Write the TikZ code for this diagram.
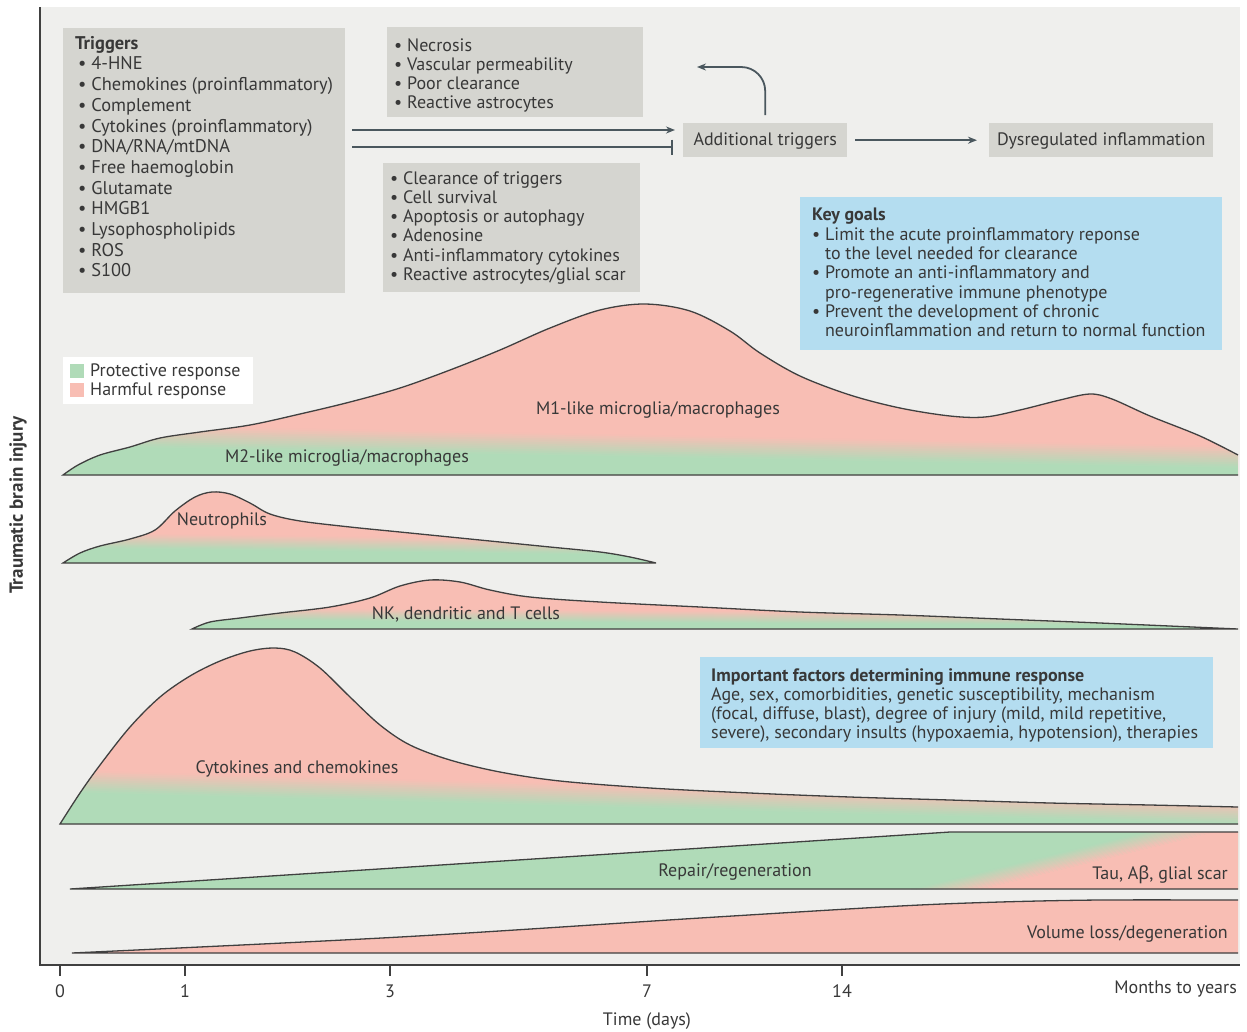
\documentclass[tikz,border=0pt]{standalone}
\usepackage{fontspec}
\setmainfont{PT Sans}
\newfontfamily\grkfont{Noto Sans}
\usetikzlibrary{arrows.meta,calc}
\definecolor{pinkc}{HTML}{F8BEB4}
\definecolor{greenc}{HTML}{B0DBB8}
\definecolor{greyc}{HTML}{D5D5D0}
\definecolor{bluec}{HTML}{B4DDF0}
\definecolor{bgc}{HTML}{EFEFED}
\definecolor{textc}{HTML}{383838}
\definecolor{linec}{HTML}{404040}
\definecolor{arrc}{HTML}{4A575E}
\newcommand\gradband[5]{%
  \foreach \k in {0,...,11}{%
    \pgfmathtruncatemacro\mixv{100*(\k+0.5)/12}%
    \pgfmathsetmacro\ya{#3+\k*#5/12}%
    \pgfmathsetmacro\yb{#4+\k*#5/12}%
    \pgfmathsetmacro\yc{#4+(\k+1)*#5/12+0.7}%
    \pgfmathsetmacro\yd{#3+(\k+1)*#5/12+0.7}%
    \fill[greenc!\mixv!pinkc] (#1,\ya) -- (#2,\yb) -- (#2,\yc) -- (#1,\yd) -- cycle;
  }%
  \pgfmathsetmacro\ye{#3+#5}%
  \pgfmathsetmacro\yf{#4+#5}%
  \fill[greenc] (#1,\ye) -- (#2,\yf) -- (#2,1000) -- (#1,1000) -- cycle;
}
\begin{document}
\begin{tikzpicture}[x=1pt,y=-1pt,
  txt/.style={font=\fontsize{18}{19.3}\selectfont, text=textc, inner sep=0pt},
  trtxt/.style={font=\fontsize{18.4}{20.7}\selectfont, text=textc, inner sep=0pt},
  lbl/.style={font=\fontsize{18}{20}\selectfont, text=textc, inner sep=0pt},
  gbox/.style={fill=greyc, draw=none, inner sep=0pt, anchor=north west},
  bbox/.style={fill=bluec, draw=none, inner sep=0pt, anchor=north west},
  curve/.style={draw=linec, line width=1.3pt},
  arr/.style={draw=arrc, line width=1.8pt, -{Stealth[length=9pt,width=7pt]}},
  barr/.style={draw=arrc, line width=1.8pt, -{Bar[width=15pt,line width=1.8pt]}},
  tick/.style={draw=linec, line width=1.3pt},
]
\useasboundingbox (0,0) rectangle (1247,1031);
\fill[white] (0,0) rectangle (1247,1031);
\fill[bgc] (40,7) rectangle (1240,965);

% ---------- top boxes ----------
\node[gbox, minimum width=282pt, minimum height=265pt] (trig) at (63,28) {};
\node[trtxt, anchor=north west, align=left] (trigtxt) at (75,36) {\textbf{Triggers}\\
\hspace*{3pt}• 4-HNE\\
\hspace*{3pt}• Chemokines (proinflammatory)\\
\hspace*{3pt}• Complement\\
\hspace*{3pt}• Cytokines (proinflammatory)\\
\hspace*{3pt}• DNA/RNA/mtDNA\\
\hspace*{3pt}• Free haemoglobin\\
\hspace*{3pt}• Glutamate\\
\hspace*{3pt}• HMGB1\\
\hspace*{3pt}• Lysophospholipids\\
\hspace*{3pt}• ROS\\
\hspace*{3pt}• S100};

\node[gbox, minimum width=256pt, minimum height=90pt] (harm) at (387,27) {};
\node[txt, anchor=north west, align=left] (harmtxt) at (394,38) {• Necrosis\\
• Vascular permeability\\
• Poor clearance\\
• Reactive astrocytes};

\node[gbox, minimum width=257pt, minimum height=129pt] (prot) at (383,163) {};
\node[txt, anchor=north west, align=left] (prottxt) at (390,171) {• Clearance of triggers\\
• Cell survival\\
• Apoptosis or autophagy\\
• Adenosine\\
• Anti-inflammatory cytokines\\
• Reactive astrocytes/glial scar};

\node[gbox, minimum width=164pt, minimum height=34pt] (addt) at (683,123) {};
\node[txt] (addttxt) at ([yshift=-1pt]addt.center) {Additional triggers};

\node[gbox, minimum width=224pt, minimum height=34pt] (dys) at (989,123) {};
\node[txt] (dystxt) at ([yshift=-1pt]dys.center) {Dysregulated inflammation};

% arrows
\coordinate (a1s) at (352,130);
\coordinate (a2s) at (352,147);
\draw[arr, shorten >=8pt] (a1s) -- (a1s -| addt.west);
\draw[barr, shorten >=10pt] (a2s) -- (a2s -| addt.west);
\coordinate (loopend) at (697,67);
\draw[arr, rounded corners=24pt, shorten <=8pt] (addt.north) |- (loopend);
\draw[arr, shorten <=8pt, shorten >=12pt] (addt.east) -- (dys.west);

% key goals
\node[bbox, minimum width=422pt, minimum height=153pt] (goals) at (800,197) {};
\node[txt, anchor=north west, align=left] (goalstxt) at (812,208) {\textbf{Key goals}\\
• Limit the acute proinflammatory reponse\\
\hphantom{• }to the level needed for clearance\\
• Promote an anti-inflammatory and\\
\hphantom{• }pro-regenerative immune phenotype\\
• Prevent the development of chronic\\
\hphantom{• }neuroinflammation and return to normal function};

% legend
\node[fill=white, inner sep=0pt, anchor=north west, minimum width=190pt, minimum height=47pt] (legend) at (63,357) {};
\node[fill=greenc, inner sep=0pt, minimum size=14pt] (lgG) at (77,371) {};
\node[fill=pinkc, inner sep=0pt, minimum size=14pt] (lgP) at (77,390) {};
\node[lbl, anchor=west] (lgGt) at (90,372) {Protective response};
\node[lbl, anchor=west] (lgPt) at (90,391) {Harmful response};

% ---------- M1/M2 curve ----------
\def\mOne{(1238,475) -- (63,475) -- plot[smooth,tension=0.55] coordinates{(63,475) (78,465) (100,455) (130,447) (160,438) (200,432) (250,425) (300,414) (350,402) (400,388) (450,370) (500,350) (550,328) (600,310) (645,304) (690,311) (730,331) (760,353) (800,376) (850,395) (900,408) (950,416) (985,417) (1020,410) (1060,400) (1090,394) (1112,399) (1150,416) (1200,436) (1238,455)}}
\begin{scope}
\clip \mOne -- cycle;
\fill[pinkc] (50,290) rectangle (1245,480);
\gradband{63}{1238}{424}{446}{22}
\end{scope}
\draw[curve] \mOne;
\node[lbl] (m1) at (658,410) {M1-like microglia/macrophages};
\node[lbl] (m2) at (347,458) {M2-like microglia/macrophages};

% ---------- neutrophils ----------
\def\neut{(656,563) -- (63,563) -- plot[smooth,tension=0.55] coordinates{(63,563) (80,553) (100,546) (130,539) (155,530) (175,511) (195,497) (212,492) (230,494) (250,503) (270,514) (300,521) (350,527) (400,532) (450,537) (500,542) (550,547) (600,552) (630,557) (656,563)}}
\begin{scope}
\clip \neut -- cycle;
\fill[pinkc] (50,480) rectangle (700,570);
\gradband{63}{656}{533}{540}{15}
\end{scope}
\draw[curve] \neut;
\node[lbl] (neutl) at (222,521) {Neutrophils};

% ---------- NK ----------
\def\nk{(1238,629) -- (192,629) -- plot[smooth,tension=0.55] coordinates{(192,629) (210,622) (240,618) (280,613) (330,607) (370,598) (400,586) (430,580) (460,582) (490,590) (530,597) (600,602) (700,607) (800,612) (900,615) (1000,619) (1100,623) (1238,629)}}
\begin{scope}
\clip \nk -- cycle;
\fill[pinkc] (180,570) rectangle (1245,635);
\gradband{192}{1238}{608}{614}{12}
\end{scope}
\draw[curve] \nk;
\node[lbl] (nkl) at (466,614) {NK, dendritic and T cells};

% ---------- cytokines ----------
\def\cyto{(1238,824) -- (60,824) -- plot[smooth,tension=0.55] coordinates{(60,824) (80,793) (100,765) (130,727) (160,697) (190,676) (220,661) (250,651) (275,648) (295,652) (320,668) (350,697) (380,725) (410,745) (450,760) (500,772) (560,781) (650,788) (750,793) (850,797) (950,800) (1050,803) (1150,805) (1238,807)}}
\begin{scope}
\clip \cyto -- cycle;
\fill[pinkc] (50,640) rectangle (1245,830);
\gradband{60}{1238}{770}{802}{22}
\end{scope}
\draw[curve] \cyto;
\node[lbl] (cytol) at (297,769) {Cytokines and chemokines};

% ---------- repair ----------
\def\rep{(1238,889) -- (70,889) -- (950,832) -- (1238,832)}
\begin{scope}
\clip \rep -- cycle;
\fill[greenc] (60,820) rectangle (1245,895);
\foreach \k in {0,...,13}{
  \pgfmathtruncatemacro\mixv{100*(\k+0.5)/14}
  \pgfmathsetmacro\dxa{-35+\k*70/14}
  \pgfmathsetmacro\dxb{-35+(\k+1)*70/14+0.7}
  \fill[pinkc!\mixv!greenc] (1208+\dxa,825) -- (922+\dxa,895) -- (922+\dxb,895) -- (1208+\dxb,825) -- cycle;
}
\fill[pinkc] (1243,825) -- (957,895) -- (1245,895) -- (1245,825) -- cycle;
\end{scope}
\draw[curve] \rep;
\node[lbl] (repl) at (735,872) {Repair/regeneration};
\node[lbl, anchor=east] (taul) at (1228,875) {Tau, A{\grkfont β}, glial scar};

% ---------- volume loss ----------
\def\vol{(1238,953) -- (72,953) -- plot[smooth,tension=0.5] coordinates{(72,953) (400,937) (700,918) (900,906) (1000,902) (1100,900) (1238,900)}}
\fill[pinkc] \vol -- cycle;
\draw[curve] \vol;
\node[lbl, anchor=east] (voll) at (1228,934) {Volume loss/degeneration};

% ---------- axes ----------
\draw[draw=linec, line width=1.5pt] (40,7) -- (40,965) -- (1240,965);
\foreach \xx/\tt/\nm in {60/0/t0, 185/1/t1, 390/3/t3, 647/7/t7, 842/14/t14}{
  \draw[tick] (\xx,965) -- (\xx,976);
  \node[lbl] (\nm) at (\xx,991) {\tt};
}
\node[lbl, anchor=east] (months) at (1237,989) {Months to years};
\node[lbl] (timel) at (647,1021) {Time (days)};
\node[lbl, rotate=90, font=\fontsize{19}{20}\selectfont\bfseries] (ylab) at (18,505) {Traumatic brain injury};

% important factors
\node[bbox, minimum width=513pt, minimum height=91pt] (imp) at (700,657) {};
\node[txt, anchor=north west, align=left] (imptxt) at (711,668) {\textbf{Important factors determining immune response}\\
Age, sex, comorbidities, genetic susceptibility, mechanism\\
(focal, diffuse, blast), degree of injury (mild, mild repetitive,\\
severe), secondary insults (hypoxaemia, hypotension), therapies};
\end{tikzpicture}
\end{document}
